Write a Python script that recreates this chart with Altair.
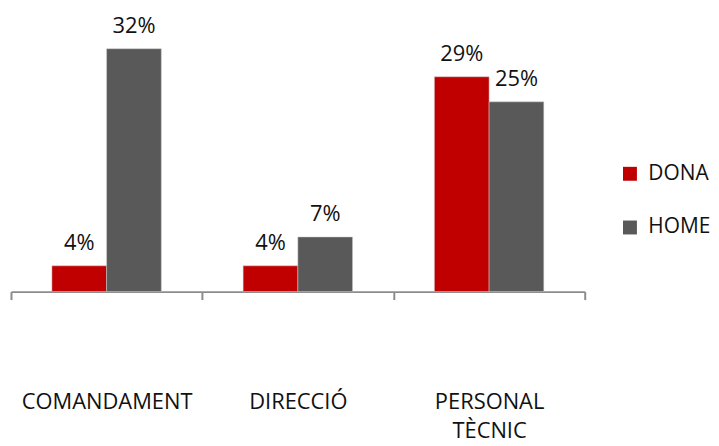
import altair as alt
import pandas as pd

categories = ["COMANDAMENT", "DIRECCIÓ", "PERSONAL TÈCNIC"]
series = ["DONA", "HOME"]
dona = [3.4, 3.4, 28.3]
home = [32.0, 7.2, 25.0]
dona_lbl = ["4%", "4%", "29%"]
home_lbl = ["32%", "7%", "25%"]
colors = ["#C00000", "#595959"]

rows = []
for c, d, h, dl, hl in zip(categories, dona, home, dona_lbl, home_lbl):
    rows.append({"cat": c, "sexe": "DONA", "v": d, "lbl": dl})
    rows.append({"cat": c, "sexe": "HOME", "v": h, "lbl": hl})
df = pd.DataFrame(rows)

FONT = "Open Sans"

x = alt.X("cat:N", sort=categories, title=None,
          scale=alt.Scale(paddingInner=0, paddingOuter=0),
          axis=alt.Axis(labelAngle=0, labelPadding=93, labelFontSize=22, labelFont=FONT,
                        labelColor="#111111", domainColor="#8c8c8c", domainWidth=2,
                        tickColor="#8c8c8c", tickWidth=2, tickSize=8, tickBand="extent",
                        labelExpr="datum.value == 'PERSONAL TÈCNIC' ? ['PERSONAL', 'TÈCNIC'] : datum.value",
                        labelLineHeight=29, labelBaseline="top"))
xo = alt.XOffset("sexe:N", sort=series, scale=alt.Scale(paddingInner=0, paddingOuter=0.748))
y = alt.Y("v:Q", scale=alt.Scale(domain=[0, 37.2], nice=False), axis=None)

bars = alt.Chart(df).mark_bar(stroke="#cfcfcf", strokeWidth=0.5).encode(
    x=x, xOffset=xo, y=y,
    color=alt.Color("sexe:N", sort=series, scale=alt.Scale(domain=series, range=colors),
                    legend=alt.Legend(title=None, orient="none", legendX=612, legendY=155,
                                      symbolType="square", symbolSize=196, symbolStrokeWidth=0,
                                      labelFontSize=21, labelFont=FONT, labelColor="#111111",
                                      rowPadding=32, symbolOffset=0, labelOffset=8, padding=0)),
)
text = alt.Chart(df).mark_text(dy=-16, baseline="alphabetic", fontSize=22, font=FONT, color="#111111").encode(
    x=x, xOffset=xo, y=y, text="lbl:N"
)

chart = (bars + text).properties(
    width=577, height=284,
    padding={"left": 2, "top": 0, "right": 0, "bottom": 0},
).configure_view(stroke=None)

chart.save("out.html", embed_options={"renderer": "svg", "actions": False})
